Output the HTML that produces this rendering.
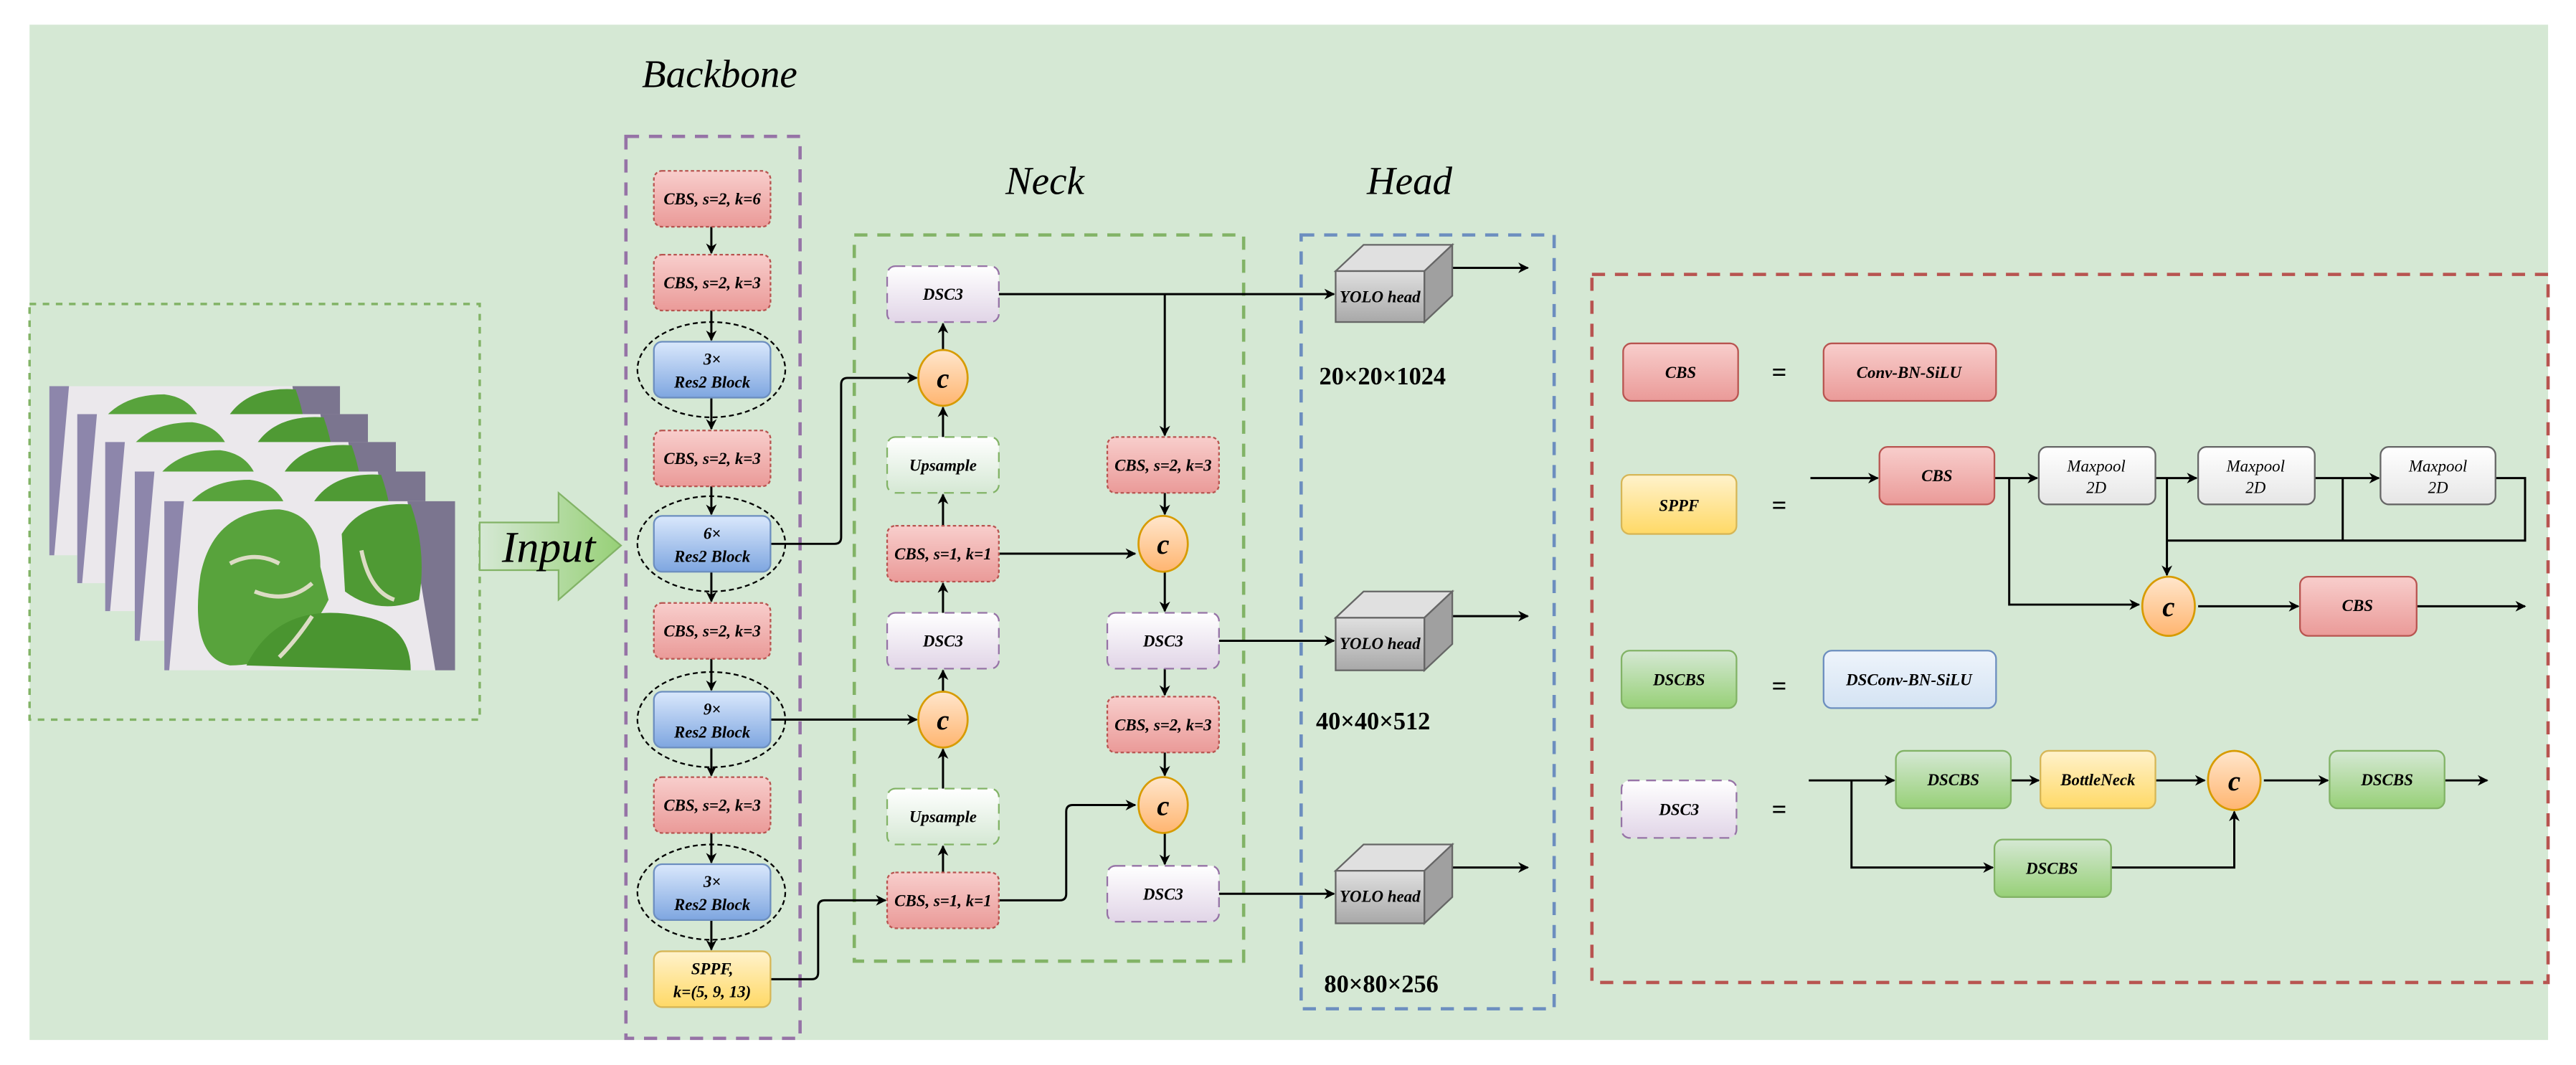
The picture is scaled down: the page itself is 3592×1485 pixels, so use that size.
<!DOCTYPE html>
<html><head><meta charset="utf-8"><style>html,body{margin:0;padding:0;background:#fff}svg{display:block}</style></head><body>
<svg width="3592" height="1485" viewBox="0 0 1568 648.2" xmlns="http://www.w3.org/2000/svg" font-family="Liberation Serif, serif">
<defs>
<marker id="a" viewBox="0 0 10 10" refX="9" refY="5" markerWidth="5" markerHeight="5" orient="auto"><path d="M0,0 L10,5 L0,10 L3,5 z" fill="#000"/></marker>
<clipPath id="ph"><rect width="177" height="103"/></clipPath>
<linearGradient id="gR" x1="0" y1="0" x2="0" y2="1"><stop offset="0" stop-color="#f8cecc"/><stop offset="1" stop-color="#ea9a98"/></linearGradient>
<linearGradient id="gB" x1="0" y1="0" x2="0" y2="1"><stop offset="0" stop-color="#dae8fc"/><stop offset="1" stop-color="#7ea6e0"/></linearGradient>
<linearGradient id="gY" x1="0" y1="0" x2="0" y2="1"><stop offset="0" stop-color="#fff2cc"/><stop offset="1" stop-color="#ffd966"/></linearGradient>
<linearGradient id="gG" x1="0" y1="0" x2="0" y2="1"><stop offset="0" stop-color="#d5e8d4"/><stop offset="1" stop-color="#97d077"/></linearGradient>
<linearGradient id="gP" x1="0" y1="0" x2="0" y2="1"><stop offset="0" stop-color="#ffffff"/><stop offset="1" stop-color="#e1d5e7"/></linearGradient>
<linearGradient id="gU" x1="0" y1="0" x2="0" y2="1"><stop offset="0" stop-color="#ffffff"/><stop offset="1" stop-color="#d5e8d4"/></linearGradient>
<linearGradient id="gO" x1="0" y1="0" x2="0" y2="1"><stop offset="0" stop-color="#ffe6cc"/><stop offset="1" stop-color="#ffb570"/></linearGradient>
<linearGradient id="gM" x1="0" y1="0" x2="0" y2="1"><stop offset="0" stop-color="#ffffff"/><stop offset="1" stop-color="#e6e6e6"/></linearGradient>
<linearGradient id="gL" x1="0" y1="0" x2="0" y2="1"><stop offset="0" stop-color="#eef4fb"/><stop offset="1" stop-color="#d4e3f3"/></linearGradient>
<linearGradient id="gC" x1="0" y1="0" x2="0" y2="1"><stop offset="0" stop-color="#e0e0e0"/><stop offset="1" stop-color="#a8a8a8"/></linearGradient>
<linearGradient id="gA" x1="0" y1="0" x2="1" y2="0"><stop offset="0" stop-color="#d5e8d4"/><stop offset="1" stop-color="#97d077"/></linearGradient>
<g id="photo">
<g clip-path="url(#ph)">
<rect width="177" height="103" fill="#ebe8ec"/>
<polygon points="0,0 12,0 3,103 0,103" fill="#8d86ab"/>
<polygon points="148,0 177,0 177,103 165,103" fill="#7b758f"/>
<path d="M22,45 Q30,5 70,5 Q95,8 95,40 L100,60 Q80,100 40,100 Q15,95 22,45z" fill="#58a33c"/>
<path d="M108,20 Q120,0 150,2 Q160,30 155,60 Q130,70 110,55z" fill="#4f9a34"/>
<path d="M50,100 Q70,60 120,70 Q150,75 150,103z" fill="#4a9530"/>
<path d="M40,38 q15,-8 30,0 M55,55 q20,8 35,-5 M120,30 q5,25 20,30 M90,70 q-10,15 -20,25" stroke="#dcdcc4" stroke-width="2.5" fill="none"/>
</g>
</g>
</defs>
<rect x="0" y="0" width="1568" height="648.2" fill="#fff"/>
<rect x="18" y="15" width="1533" height="618" fill="#d5e8d4"/>

<g font-style="italic" font-size="24" text-anchor="middle" fill="#000">
<text x="438" y="53">Backbone</text>
<text x="636" y="118">Neck</text>
<text x="858" y="118">Head</text>
</g>

<rect x="18" y="185" width="274" height="253" fill="none" stroke="#82b366" stroke-width="1.5" stroke-dasharray="4,4"/>
<rect x="381" y="83" width="106" height="549" fill="none" stroke="#9673a6" stroke-width="2" stroke-dasharray="8,6"/>
<rect x="520" y="143" width="237" height="442" fill="none" stroke="#82b366" stroke-width="2" stroke-dasharray="8,6"/>
<rect x="792" y="143" width="154" height="471" fill="none" stroke="#6c8ebf" stroke-width="2" stroke-dasharray="8,6"/>
<rect x="969" y="167" width="582" height="431" fill="none" stroke="#b85450" stroke-width="2" stroke-dasharray="8,6"/>

<use href="#photo" x="30" y="235"/>
<use href="#photo" x="47" y="252"/>
<use href="#photo" x="64" y="269"/>
<use href="#photo" x="82" y="287"/>
<use href="#photo" x="100" y="305"/>

<polygon points="292,318 340,318 340,300 378,332 340,365 340,347 292,347" fill="url(#gA)" stroke="#82b366" stroke-width="1"/>
<text x="334" y="342" font-style="italic" font-size="27" text-anchor="middle">Input</text>

<g stroke="#000" stroke-width="1.3" fill="none">
<line x1="433" y1="138" x2="433" y2="154" marker-end="url(#a)"/>
<line x1="433" y1="189" x2="433" y2="207" marker-end="url(#a)"/>
<line x1="433" y1="242" x2="433" y2="261" marker-end="url(#a)"/>
<line x1="433" y1="296" x2="433" y2="313" marker-end="url(#a)"/>
<line x1="433" y1="348" x2="433" y2="366" marker-end="url(#a)"/>
<line x1="433" y1="401" x2="433" y2="420" marker-end="url(#a)"/>
<line x1="433" y1="455" x2="433" y2="472" marker-end="url(#a)"/>
<line x1="433" y1="507" x2="433" y2="525" marker-end="url(#a)"/>
<line x1="433" y1="560" x2="433" y2="578" marker-end="url(#a)"/>
<path d="M469,331 H508 Q512,331 512,327 V234 Q512,230 516,230 H558" marker-end="url(#a)"/>
<path d="M469,438 H558" marker-end="url(#a)"/>
<path d="M469,596 H494 Q498,596 498,592 V552 Q498,548 502,548 H539" marker-end="url(#a)"/>
<line x1="574" y1="213" x2="574" y2="197" marker-end="url(#a)"/>
<line x1="574" y1="266" x2="574" y2="248" marker-end="url(#a)"/>
<line x1="574" y1="320" x2="574" y2="301" marker-end="url(#a)"/>
<line x1="574" y1="373" x2="574" y2="355" marker-end="url(#a)"/>
<line x1="574" y1="421" x2="574" y2="408" marker-end="url(#a)"/>
<line x1="574" y1="480" x2="574" y2="456" marker-end="url(#a)"/>
<line x1="574" y1="531" x2="574" y2="515" marker-end="url(#a)"/>
<path d="M608,179 H812" marker-end="url(#a)"/>
<path d="M709,179 V265" marker-end="url(#a)"/>
<path d="M608,337 H691" marker-end="url(#a)"/>
<path d="M608,548 H645 Q649,548 649,544 V494 Q649,490 653,490 H691" marker-end="url(#a)"/>
<line x1="709" y1="300" x2="709" y2="313" marker-end="url(#a)"/>
<line x1="709" y1="348" x2="709" y2="372" marker-end="url(#a)"/>
<line x1="709" y1="407" x2="709" y2="423" marker-end="url(#a)"/>
<line x1="709" y1="458" x2="709" y2="472" marker-end="url(#a)"/>
<line x1="709" y1="507" x2="709" y2="526" marker-end="url(#a)"/>
<path d="M742,390 H812" marker-end="url(#a)"/>
<path d="M742,544 H812" marker-end="url(#a)"/>
<path d="M884,163 H930" marker-end="url(#a)"/>
<path d="M884,375 H930" marker-end="url(#a)"/>
<path d="M884,528 H930" marker-end="url(#a)"/>
<path d="M1102,291 H1143" marker-end="url(#a)"/>
<path d="M1214,291 H1240" marker-end="url(#a)"/>
<path d="M1312,291 H1337" marker-end="url(#a)"/>
<path d="M1409,291 H1448" marker-end="url(#a)"/>
<path d="M1223,291 V368 H1302" marker-end="url(#a)"/>
<path d="M1319,291 V350" marker-end="url(#a)"/>
<path d="M1319,329 H1537 V291 H1519"/>
<path d="M1426,291 V329"/>
<path d="M1338,369 H1399" marker-end="url(#a)"/>
<path d="M1471,369 H1537" marker-end="url(#a)"/>
<path d="M1101,475 H1153" marker-end="url(#a)"/>
<path d="M1224,475 H1241" marker-end="url(#a)"/>
<path d="M1312,475 H1342" marker-end="url(#a)"/>
<path d="M1378,475 H1417" marker-end="url(#a)"/>
<path d="M1488,475 H1514" marker-end="url(#a)"/>
<path d="M1127,475 V528 H1213" marker-end="url(#a)"/>
<path d="M1285,528 H1360 V494" marker-end="url(#a)"/>
</g>

<g fill="none" stroke="#000" stroke-width="1" stroke-dasharray="3,2">
<ellipse cx="433" cy="225" rx="45" ry="29"/>
<ellipse cx="433" cy="331" rx="45" ry="29"/>
<ellipse cx="433" cy="438" rx="45" ry="29"/>
<ellipse cx="433" cy="543" rx="45" ry="29"/>
</g>

<g font-style="italic" font-weight="bold" font-size="10" text-anchor="middle">
<g stroke="#b85450" stroke-dasharray="2,1.5" stroke-width="1">
<rect x="398" y="104" width="71" height="34" rx="5" fill="url(#gR)"/>
<rect x="398" y="155" width="71" height="34" rx="5" fill="url(#gR)"/>
<rect x="398" y="262" width="71" height="34" rx="5" fill="url(#gR)"/>
<rect x="398" y="367" width="71" height="34" rx="5" fill="url(#gR)"/>
<rect x="398" y="473" width="71" height="34" rx="5" fill="url(#gR)"/>
<rect x="540" y="320" width="68" height="34" rx="5" fill="url(#gR)"/>
<rect x="540" y="531" width="68" height="34" rx="5" fill="url(#gR)"/>
<rect x="674" y="266" width="68" height="34" rx="5" fill="url(#gR)"/>
<rect x="674" y="424" width="68" height="34" rx="5" fill="url(#gR)"/>
</g>
<text x="433.5" y="124.5">CBS, s=2, k=6</text>
<text x="433.5" y="175.5">CBS, s=2, k=3</text>
<text x="433.5" y="282.5">CBS, s=2, k=3</text>
<text x="433.5" y="387.5">CBS, s=2, k=3</text>
<text x="433.5" y="493.5">CBS, s=2, k=3</text>
<text x="574" y="340.5">CBS, s=1, k=1</text>
<text x="574" y="551.5">CBS, s=1, k=1</text>
<text x="708" y="286.5">CBS, s=2, k=3</text>
<text x="708" y="444.5">CBS, s=2, k=3</text>

<g stroke="#6c8ebf" stroke-width="1">
<rect x="398" y="208" width="71" height="34" rx="5" fill="url(#gB)"/>
<rect x="398" y="314" width="71" height="34" rx="5" fill="url(#gB)"/>
<rect x="398" y="421" width="71" height="34" rx="5" fill="url(#gB)"/>
<rect x="398" y="526" width="71" height="34" rx="5" fill="url(#gB)"/>
</g>
<text x="433.5" y="222">3×</text><text x="433.5" y="236">Res2 Block</text>
<text x="433.5" y="328">6×</text><text x="433.5" y="342">Res2 Block</text>
<text x="433.5" y="435">9×</text><text x="433.5" y="449">Res2 Block</text>
<text x="433.5" y="540">3×</text><text x="433.5" y="554">Res2 Block</text>

<rect x="398" y="579" width="71" height="34" rx="5" fill="url(#gY)" stroke="#d6b656"/>
<text x="433.5" y="593">SPPF,</text><text x="433.5" y="607">k=(5, 9, 13)</text>

<g stroke="#9673a6" stroke-width="1" stroke-dasharray="6,4">
<rect x="540" y="162" width="68" height="34" rx="5" fill="url(#gP)"/>
<rect x="540" y="373" width="68" height="34" rx="5" fill="url(#gP)"/>
<rect x="674" y="373" width="68" height="34" rx="5" fill="url(#gP)"/>
<rect x="674" y="527" width="68" height="34" rx="5" fill="url(#gP)"/>
</g>
<text x="574" y="182.5">DSC3</text>
<text x="574" y="393.5">DSC3</text>
<text x="708" y="393.5">DSC3</text>
<text x="708" y="547.5">DSC3</text>
<g stroke="#82b366" stroke-width="1" stroke-dasharray="6,4">
<rect x="540" y="266" width="68" height="34" rx="5" fill="url(#gU)"/>
<rect x="540" y="480" width="68" height="34" rx="5" fill="url(#gU)"/>
</g>
<text x="574" y="286.5">Upsample</text>
<text x="574" y="500.5">Upsample</text>
</g>

<g stroke="#d79b00" stroke-width="1.2" fill="url(#gO)">
<ellipse cx="574" cy="230" rx="15" ry="17"/>
<ellipse cx="574" cy="438" rx="15" ry="17"/>
<ellipse cx="708" cy="331" rx="15" ry="17"/>
<ellipse cx="708" cy="490" rx="15" ry="17"/>
<ellipse cx="1320" cy="369" rx="16" ry="18"/>
<ellipse cx="1360" cy="475" rx="16" ry="18"/>
</g>
<g font-style="italic" font-weight="bold" font-size="17" text-anchor="middle">
<text x="574" y="236">c</text><text x="574" y="444">c</text>
<text x="708" y="337">c</text><text x="708" y="496">c</text>
<text x="1320" y="375">c</text><text x="1360" y="481">c</text>
</g>

<g stroke="#666" stroke-width="1">
<g><polygon points="813,165 830,149 884,149 867,165" fill="#e0e0e0"/><polygon points="867,165 884,149 884,180 867,196" fill="#a0a0a0"/><rect x="813" y="165" width="54" height="31" fill="url(#gC)"/></g>
<g><polygon points="813,376 830,360 884,360 867,376" fill="#e0e0e0"/><polygon points="867,376 884,360 884,392 867,408" fill="#a0a0a0"/><rect x="813" y="376" width="54" height="32" fill="url(#gC)"/></g>
<g><polygon points="813,530 830,514 884,514 867,530" fill="#e0e0e0"/><polygon points="867,530 884,514 884,546 867,562" fill="#a0a0a0"/><rect x="813" y="530" width="54" height="32" fill="url(#gC)"/></g>
</g>
<g font-style="italic" font-weight="bold" font-size="10" text-anchor="middle">
<text x="840" y="184">YOLO head</text>
<text x="840" y="395">YOLO head</text>
<text x="840" y="549">YOLO head</text>
</g>
<g font-weight="bold" font-size="15">
<text x="803" y="234">20×20×1024</text>
<text x="801" y="444">40×40×512</text>
<text x="806" y="604">80×80×256</text>
</g>

<g font-style="italic" font-weight="bold" font-size="10" text-anchor="middle">
<rect x="988" y="209" width="70" height="35" rx="5" fill="url(#gR)" stroke="#b85450"/><text x="1023" y="230">CBS</text>
<rect x="1110" y="209" width="105" height="35" rx="5" fill="url(#gR)" stroke="#b85450"/><text x="1162" y="230">Conv-BN-SiLU</text>
<rect x="987" y="289" width="70" height="36" rx="5" fill="url(#gY)" stroke="#d6b656"/><text x="1022" y="311">SPPF</text>
<rect x="1144" y="272" width="70" height="35" rx="5" fill="url(#gR)" stroke="#b85450"/><text x="1179" y="293">CBS</text>
<rect x="1241" y="272" width="71" height="35" rx="5" fill="url(#gM)" stroke="#666"/><text x="1276" y="287" font-weight="normal">Maxpool</text><text x="1276" y="300" font-weight="normal">2D</text>
<rect x="1338" y="272" width="71" height="35" rx="5" fill="url(#gM)" stroke="#666"/><text x="1373" y="287" font-weight="normal">Maxpool</text><text x="1373" y="300" font-weight="normal">2D</text>
<rect x="1449" y="272" width="70" height="35" rx="5" fill="url(#gM)" stroke="#666"/><text x="1484" y="287" font-weight="normal">Maxpool</text><text x="1484" y="300" font-weight="normal">2D</text>
<rect x="1400" y="351" width="71" height="36" rx="5" fill="url(#gR)" stroke="#b85450"/><text x="1435" y="372">CBS</text>
<rect x="987" y="396" width="70" height="35" rx="5" fill="url(#gG)" stroke="#82b366"/><text x="1022" y="417">DSCBS</text>
<rect x="1110" y="396" width="105" height="35" rx="5" fill="url(#gL)" stroke="#6c8ebf"/><text x="1162" y="417">DSConv-BN-SiLU</text>
<rect x="987" y="475" width="70" height="35" rx="5" fill="url(#gP)" stroke="#9673a6" stroke-dasharray="6,4"/><text x="1022" y="496">DSC3</text>
<rect x="1154" y="457" width="70" height="35" rx="5" fill="url(#gG)" stroke="#82b366"/><text x="1189" y="478">DSCBS</text>
<rect x="1242" y="457" width="70" height="35" rx="5" fill="url(#gY)" stroke="#d6b656"/><text x="1277" y="478">BottleNeck</text>
<rect x="1418" y="457" width="70" height="35" rx="5" fill="url(#gG)" stroke="#82b366"/><text x="1453" y="478">DSCBS</text>
<rect x="1214" y="511" width="71" height="35" rx="5" fill="url(#gG)" stroke="#82b366"/><text x="1249" y="532">DSCBS</text>
</g>
<g font-weight="bold" font-size="16" text-anchor="middle">
<text x="1083" y="232">=</text>
<text x="1083" y="313">=</text>
<text x="1083" y="423">=</text>
<text x="1083" y="498">=</text>
</g>
</svg>
</body></html>
